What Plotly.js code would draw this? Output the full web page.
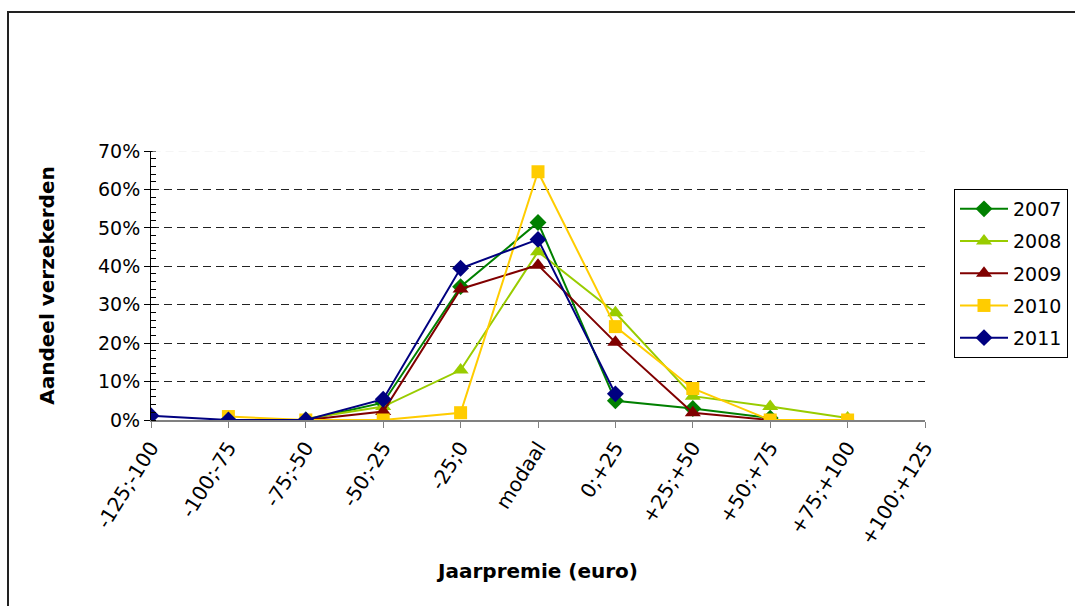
<!DOCTYPE html>
<html>
<head>
<meta charset="utf-8">
<script src="https://cdn.plot.ly/plotly-3.0.1.min.js"></script>
<style>
  html, body { margin: 0; padding: 0; background: #fff; }
  #wrap { position: relative; width: 1075px; height: 606px; overflow: hidden; }
  #chart { position: absolute; left: 0; top: 0; width: 1075px; height: 606px; }
  #frame { position: absolute; left: 7px; top: 11px; width: 1200px; height: 800px;
           border-left: 2px solid #222; border-top: 2px solid #222; pointer-events: none; }
</style>
</head>
<body>
<div id="wrap">
  <div id="chart"></div>
  <div id="frame"></div>
</div>
<script>
const categories = ['-125;-100', '-100;-75', '-75;-50', '-50;-25', '-25;0', 'modaal',
                    '0;+25', '+25;+50', '+50;+75', '+75;+100', '+100;+125'];
const years = ['2007', '2008', '2009', '2010', '2011'];
const y2007 = [null, 0, 0, 0.045, 0.347, 0.514, 0.050, 0.030, 0.005, null, null];
const y2008 = [null, null, 0.003, 0.035, 0.130, 0.438, 0.279, 0.062, 0.035, 0.005, null];
const y2009 = [null, 0, 0, 0.022, 0.341, 0.403, 0.202, 0.019, 0, null, null];
const y2010 = [null, 0.009, 0, 0, 0.019, 0.646, 0.243, 0.082, 0, 0, null];
const y2011 = [0.011, 0, 0, 0.054, 0.395, 0.470, 0.068, null, null, null, null];
const yTickVals = [0, 0.1, 0.2, 0.3, 0.4, 0.5, 0.6, 0.7];

const seriesValues = [y2007, y2008, y2009, y2010, y2011];
const colors = ['#008000', '#99CC00', '#800000', '#FFCC00', '#000080'];
const symbols = ['diamond', 'triangle-up', 'triangle-up', 'square', 'diamond'];
const sizes = [13, 14, 14, 13, 13];

const traces = years.map((yr, i) => ({
  type: 'scatter',
  mode: 'lines+markers',
  name: yr,
  legendgroup: 'g' + yr,
  x: categories,
  y: seriesValues[i],
  line: { color: colors[i], width: 2 },
  marker: { color: colors[i], symbol: symbols[i], size: sizes[i], line: { width: 0 } },
  connectgaps: false
}));

const font = 'DejaVu Sans, Verdana, sans-serif';

const layout = {
  width: 1075,
  height: 606,
  margin: { l: 151, r: 150, t: 151, b: 186, autoexpand: false },
  paper_bgcolor: 'rgba(0,0,0,0)',
  plot_bgcolor: '#fff',
  font: { family: font, size: 19, color: '#000' },
  showlegend: true,
  legend: {
    xref: 'container', yref: 'container',
    x: 954 / 1075, y: 1 - 189 / 606, xanchor: 'left', yanchor: 'top',
    bordercolor: '#000', borderwidth: 1, bgcolor: '#fff',
    font: { family: font, size: 19, color: '#000' },
    traceorder: 'grouped',
    tracegroupgap: 4.5,
    itemwidth: 48,
    entrywidth: 70
  },
  xaxis: {
    type: 'category',
    range: [0, 10],
    automargin: false,
    showline: true, linecolor: '#808080', linewidth: 2,
    ticks: 'outside', ticklen: 6, tickcolor: '#808080', tickwidth: 1,
    tickangle: -58,
    tickfont: { family: font, size: 20, color: '#000' },
    showgrid: false, zeroline: false,
    title: { text: 'Jaarpremie (euro)', font: { family: font, size: 20, color: '#000', weight: 'bold' }, standoff: 16 }
  },
  yaxis: {
    range: [0, 0.7],
    automargin: false,
    tickvals: yTickVals,
    tickformat: '.0%',
    showline: true, linecolor: '#000', linewidth: 1,
    ticks: 'outside', ticklen: 6, tickcolor: '#000', tickwidth: 1,
    minor: { dtick: 0.02, ticks: 'inside', ticklen: 5, tickcolor: '#000', showgrid: false },
    tickfont: { family: font, size: 19, color: '#000' },
    showgrid: true, gridcolor: '#222', griddash: '8px,5px', gridwidth: 1,
    zeroline: false,
    title: { text: 'Aandeel verzekerden', font: { family: font, size: 20, color: '#000', weight: 'bold' }, standoff: 37 }
  },
  shapes: [{
    type: 'line', xref: 'paper', yref: 'y', x0: 0.002, x1: 1, y0: 0.7, y1: 0.7,
    line: { color: '#ececec', width: 1.2, dash: '8px,5px' }, layer: 'above'
  }]
};

Plotly.newPlot('chart', traces, layout, { displayModeBar: false, staticPlot: true });
</script>
</body>
</html>
